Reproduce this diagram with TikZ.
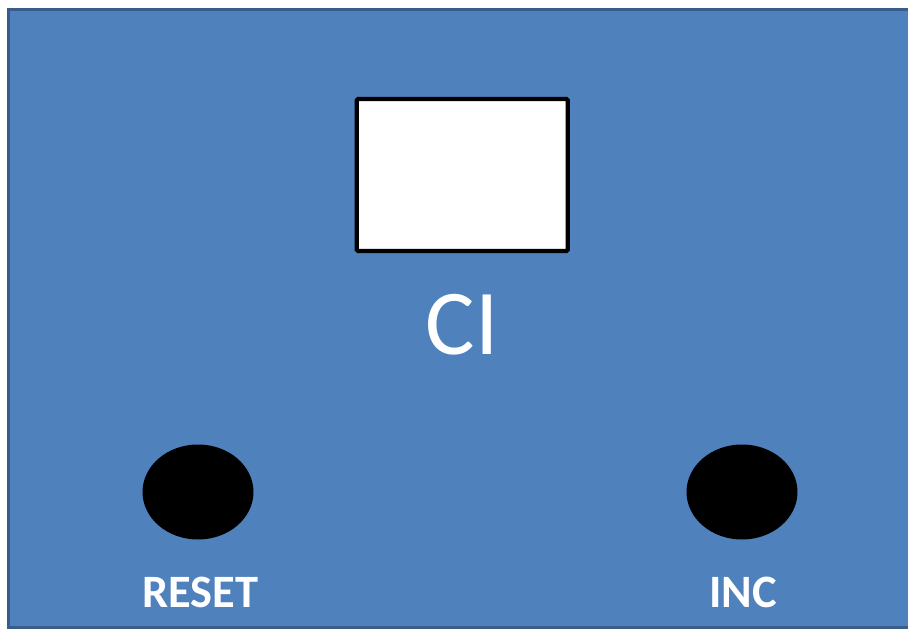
\documentclass[tikz,border=0pt]{standalone}
\usepackage{fontspec}
\setmainfont{Carlito}
\usepackage{tikz}
\usetikzlibrary{positioning,shapes.geometric}
\definecolor{panelblue}{HTML}{4F81BD}
\definecolor{paneledge}{HTML}{385D8A}

\begin{document}
\begin{tikzpicture}[x=0.025cm,y=-0.025cm,
    panel/.style={fill=panelblue,draw=paneledge,line width=2.5pt},
    display/.style={rectangle,fill=white,draw=black,line width=3pt,rounded corners=1pt,
        minimum width=211*0.025cm,minimum height=152*0.025cm,inner sep=0pt},
    button/.style={ellipse,fill=black,minimum width=111*0.025cm,minimum height=95*0.025cm,inner sep=0pt},
    btnlabel/.style={text=white,font=\fontsize{33}{36}\selectfont\bfseries}]
       \useasboundingbox (0,0) rectangle (908,629);
       \draw[panel] (8.5,9.5) rectangle (912,627.5);
       \node[display] (screen) at (462.25,175) {};
       \node[text=white,font=\fontsize{66}{70}\selectfont] (ci) at (462,325) {CI};
       \node[button] (reset) at (198,492) {};
       \node[button] (inc) at (742,492) {};
       \node[btnlabel] (resetlbl) at (200,592) {RESET};
       \node[btnlabel] (inclbl) at (743,592) {INC};
\end{tikzpicture}
\end{document}
